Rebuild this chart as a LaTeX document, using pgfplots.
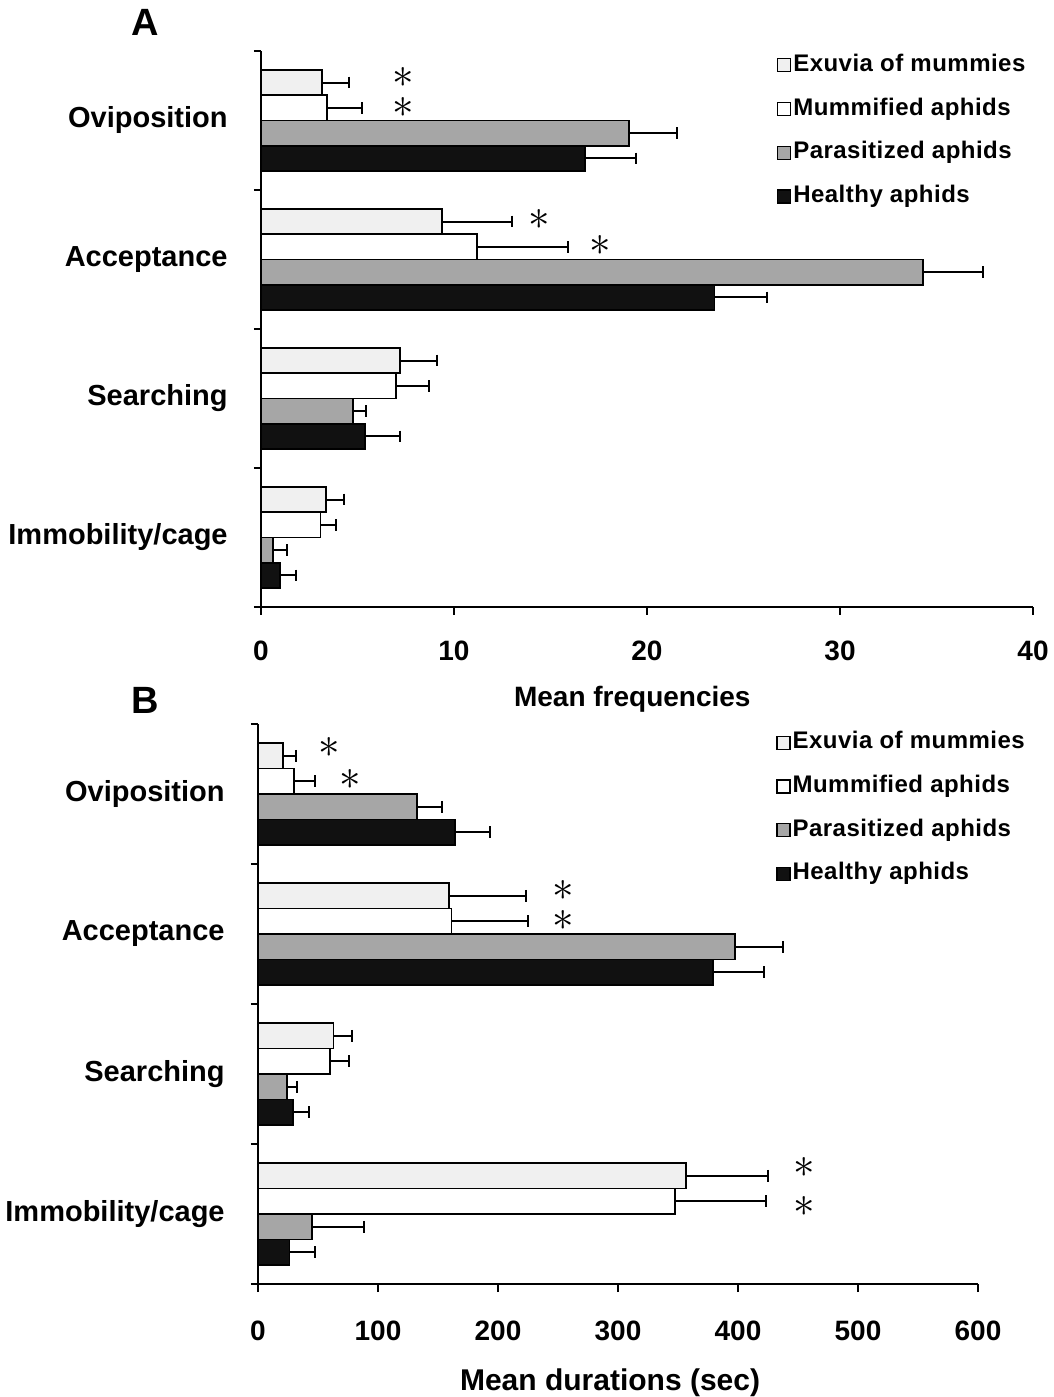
\documentclass[border=0pt]{standalone}
\usepackage{fontspec}
\setmainfont{Liberation Sans}
\usepackage{graphicx}
\usepackage{pgfplots}
\pgfplotsset{compat=1.18}
\usepackage{pgfplotstable}

\definecolor{exu}{HTML}{F0F0F0}
\definecolor{par}{HTML}{A6A6A6}
\definecolor{hea}{HTML}{111111}

% Panel A: mean frequencies (y = category index, v = mean, e = error)
\pgfplotstableread{
y v e
3 3.14 1.41
2 9.36 3.64
1 7.20 1.90
0 3.36 0.94
}\AExu
\pgfplotstableread{
y v e
3 3.44 1.80
2 11.2 4.70
1 6.98 1.75
0 3.08 0.80
}\AMum
\pgfplotstableread{
y v e
3 19.07 2.49
2 34.3 3.10
1 4.76 0.69
0 0.63 0.70
}\APar
\pgfplotstableread{
y v e
3 16.79 2.66
2 23.5 2.70
1 5.39 1.83
0 0.98 0.83
}\AHea
% Panel B: mean durations
\pgfplotstableread{
y v e
3 20.6 11.0
2 159.4 63.9
1 63.0 15.5
0 356.4 68.4
}\BExu
\pgfplotstableread{
y v e
3 30.1 17.4
2 161.2 63.6
1 60.3 15.3
0 347.5 75.5
}\BMum
\pgfplotstableread{
y v e
3 132.8 20.2
2 397.3 40.3
1 24.3 8.1
0 44.9 43.7
}\BPar
\pgfplotstableread{
y v e
3 164.5 28.9
2 379.1 42.9
1 29.1 13.8
0 26.3 21.4
}\BHea

\pgfplotsset{
  myaxis/.style={
    scale only axis,
    xmin=0, ymin=-0.5, ymax=3.5,
    axis x line*=bottom, axis y line*=left,
    tick align=outside,
    ytick={0,1,2,3},
    yticklabels={Immobility/cage,Searching,Acceptance,Oviposition\hspace{5pt}},
    minor ytick={-0.5,0.5,1.5,2.5,3.5},
    major y tick style={draw=none},
    minor tick length=3.5pt,
    major tick length=4pt,
    tick style={black, line width=0.6pt},
    x axis line style={line width=1.2pt},
    y axis line style={line width=0.7pt},
    yticklabel style={font=\fontsize{14.5}{17}\selectfont\bfseries, anchor=east, inner sep=0pt, xshift=-12.5pt},
    xticklabel style={font=\fontsize{14}{17}\selectfont\bfseries, anchor=center, inner sep=0pt},
    /pgf/number format/assume math mode=true,
    legend cell align=left,
    legend style={draw=none, fill=none, inner sep=0pt, row sep=7.85pt,
      font=\fontsize{12}{14}\selectfont\bfseries\addfontfeatures{LetterSpace=2},
      nodes={inner sep=1pt, text height=9pt, text depth=3pt}},
    clip=false,
  },
  bars/.style={xbar, bar width=0.182, bar shift=0pt, draw=black, line width=0.9pt,
    legend image code/.code={\draw[##1, line width=0.6pt] (-2pt,-3.25pt) rectangle (4.5pt,3.25pt);},
    /pgfplots/error bars/x dir=plus, /pgfplots/error bars/x explicit,
    /pgfplots/error bars/error mark=|,
    /pgfplots/error bars/error bar style={line width=1pt, black},
    /pgfplots/error bars/error mark options={black, line width=1pt, mark size=2.9pt}},
}
\newcommand{\sigstar}{\scalebox{2.15}{$\ast$}}
\tikzset{sig/.style={inner sep=0pt}}

\begin{document}
\begin{tikzpicture}
\path[use as bounding box] (0,0) rectangle (527pt,698.5pt);

\begin{axis}[myaxis, at={(130.5pt,395pt)}, anchor=south west,
  width=386pt, height=278pt, xmax=40, xtick={0,10,20,30,40},
  xticklabel style={yshift=-18pt},
  xlabel={Mean frequencies},
  x label style={at={(rel axis cs:0.481,0)}, anchor=base, yshift=-50pt, font=\fontsize{14}{17}\selectfont\bfseries},
  legend style={at={(rel axis cs:0.668,1.0)}, anchor=north west}]
\addplot[bars, fill=exu] table[x=v, y expr=\thisrow{y}+0.273, x error=e]{\AExu};
\addlegendentry{Exuvia of mummies}
\addplot[bars, fill=white] table[x=v, y expr=\thisrow{y}+0.091, x error=e]{\AMum};
\addlegendentry{Mummified aphids}
\addplot[bars, fill=par] table[x=v, y expr=\thisrow{y}-0.091, x error=e]{\APar};
\addlegendentry{Parasitized aphids}
\addplot[bars, fill=hea] table[x=v, y expr=\thisrow{y}-0.273, x error=e]{\AHea};
\addlegendentry{Healthy aphids}
\node[sig] at (axis cs:7.39,3.31) {\sigstar};
\node[sig] at (axis cs:7.39,3.09) {\sigstar};
\node[sig] at (axis cs:14.4,2.29) {\sigstar};
\node[sig] at (axis cs:17.6,2.10) {\sigstar};
\end{axis}

\begin{axis}[myaxis, at={(129pt,56.5pt)}, anchor=south west,
  width=360pt, height=280pt, xmax=600, xtick={0,100,...,600},
  xticklabel style={yshift=-19.5pt},
  xlabel={Mean durations (sec)},
  x label style={at={(rel axis cs:0.489,0)}, anchor=base, yshift=-53pt, font=\fontsize{15}{17}\selectfont\bfseries},
  legend style={at={(rel axis cs:0.7195,0.992)}, anchor=north west}]
\addplot[bars, fill=exu] table[x=v, y expr=\thisrow{y}+0.273, x error=e]{\BExu};
\addlegendentry{Exuvia of mummies}
\addplot[bars, fill=white] table[x=v, y expr=\thisrow{y}+0.091, x error=e]{\BMum};
\addlegendentry{Mummified aphids}
\addplot[bars, fill=par] table[x=v, y expr=\thisrow{y}-0.091, x error=e]{\BPar};
\addlegendentry{Parasitized aphids}
\addplot[bars, fill=hea] table[x=v, y expr=\thisrow{y}-0.273, x error=e]{\BHea};
\addlegendentry{Healthy aphids}
\node[sig] at (axis cs:59.7,3.33) {\sigstar};
\node[sig] at (axis cs:77,3.10) {\sigstar};
\node[sig] at (axis cs:254.6,2.31) {\sigstar};
\node[sig] at (axis cs:254.6,2.10) {\sigstar};
\node[sig] at (axis cs:455.5,0.33) {\sigstar};
\node[sig] at (axis cs:455.5,0.055) {\sigstar};
\end{axis}

\node[font=\fontsize{19}{22}\selectfont\bfseries] at (72.5pt,687.5pt) {A};
\node[font=\fontsize{19}{22}\selectfont\bfseries] at (72.5pt,348.5pt) {B};
\end{tikzpicture}
\end{document}
